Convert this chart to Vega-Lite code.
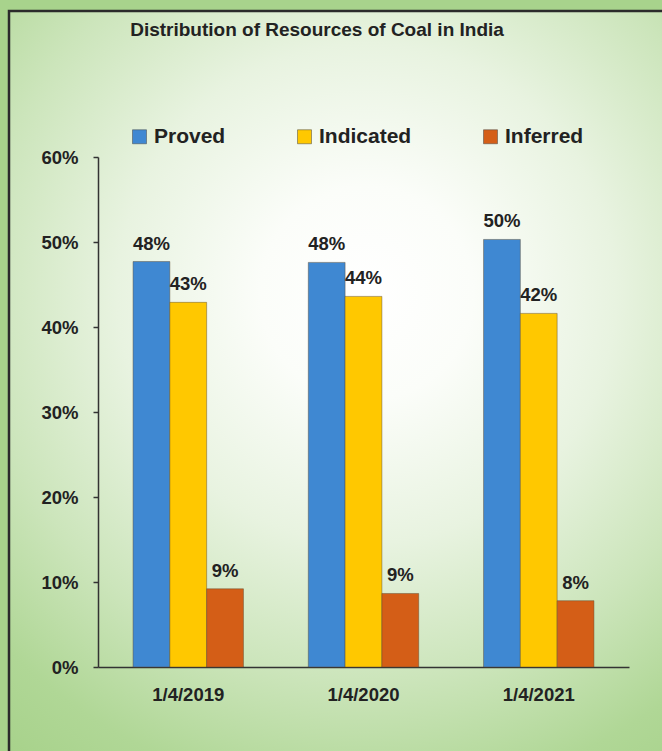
{
  "$schema": "https://vega.github.io/schema/vega-lite/v6.json",
  "width": 656,
  "height": 743,
  "autosize": {"type": "none"},
  "padding": {"left": 9, "top": 11, "right": -3, "bottom": -3},
  "background": "#a8d38c",
  "title": {
    "text": "Distribution of Resources of Coal in India",
    "anchor": "middle",
    "frame": "group",
    "offset": -20,
    "dy": 18,
    "dx": -20,
    "baseline": "middle",
    "font": "Liberation Sans, Arial, sans-serif",
    "fontSize": 19,
    "fontWeight": "bold",
    "color": "#222222"
  },
  "config": {
    "view": {
      "stroke": "#2b2b2b",
      "strokeWidth": 2.5,
      "fill": {
        "gradient": "radial",
        "x1": 0.54, "y1": 0.38, "r1": 0,
        "x2": 0.54, "y2": 0.38, "r2": 0.8,
        "stops": [
          {"offset": 0, "color": "#ffffff"},
          {"offset": 0.18, "color": "#fbfdf9"},
          {"offset": 0.42, "color": "#e8f3e0"},
          {"offset": 0.65, "color": "#cce5bb"},
          {"offset": 0.85, "color": "#b0d796"},
          {"offset": 1, "color": "#a6d189"}
        ]
      }
    },
    "axis": {
      "labelFont": "Liberation Sans, Arial, sans-serif",
      "labelFontWeight": "bold",
      "labelColor": "#222222",
      "domainColor": "#333333",
      "tickColor": "#333333",
      "grid": false,
      "title": null
    },
    "legend": {
      "labelFont": "Liberation Sans, Arial, sans-serif"
    }
  },
  "data": {
    "values": [
      {"date": "1/4/2019", "category": "Proved", "share": 0.477},
      {"date": "1/4/2019", "category": "Indicated", "share": 0.429},
      {"date": "1/4/2019", "category": "Inferred", "share": 0.092},
      {"date": "1/4/2020", "category": "Proved", "share": 0.476},
      {"date": "1/4/2020", "category": "Indicated", "share": 0.436},
      {"date": "1/4/2020", "category": "Inferred", "share": 0.0865},
      {"date": "1/4/2021", "category": "Proved", "share": 0.503},
      {"date": "1/4/2021", "category": "Indicated", "share": 0.416},
      {"date": "1/4/2021", "category": "Inferred", "share": 0.078}
    ]
  },
  "encoding": {
    "x": {
      "field": "date",
      "type": "nominal",
      "sort": ["1/4/2019", "1/4/2020", "1/4/2021"],
      "scale": {"range": [89, 620], "paddingInner": 0.37, "paddingOuter": 0.2},
      "axis": {
        "orient": "bottom",
        "offset": -87,
        "labelAngle": 0,
        "ticks": false,
        "labelPadding": 18,
        "labelFontSize": 18.5,
        "domainWidth": 1.5
      }
    },
    "xOffset": {
      "field": "category",
      "type": "nominal",
      "sort": ["Proved", "Indicated", "Inferred"],
      "scale": {"paddingInner": 0, "paddingOuter": 0}
    },
    "y": {
      "field": "share",
      "type": "quantitative",
      "scale": {"domain": [0, 0.6], "range": [656, 146], "nice": false, "zero": true},
      "axis": {
        "orient": "left",
        "offset": -89,
        "values": [0, 0.1, 0.2, 0.3, 0.4, 0.5, 0.6],
        "format": ".0%",
        "tickSize": 5,
        "tickWidth": 1.5,
        "domainWidth": 1.5,
        "labelPadding": 15,
        "labelFontSize": 18.5
      }
    }
  },
  "layer": [
    {
      "mark": {"type": "bar", "stroke": "#5a4a30", "strokeOpacity": 0.45, "strokeWidth": 1},
      "encoding": {
        "color": {
          "field": "category",
          "type": "nominal",
          "sort": ["Proved", "Indicated", "Inferred"],
          "scale": {
            "domain": ["Proved", "Indicated", "Inferred"],
            "range": ["#3f88d2", "#ffc800", "#d45e17"]
          },
          "legend": {
            "orient": "none",
            "legendX": 120,
            "legendY": 115,
            "direction": "horizontal",
            "title": null,
            "symbolType": "square",
            "symbolSize": 196,
            "symbolStrokeWidth": 0.5,
            "symbolStrokeColor": "#444444",
            "symbolOpacity": 1,
            "labelFontSize": 21,
            "labelFontWeight": "bold",
            "labelColor": "#222222",
            "labelOffset": 4,
            "columnPadding": 68,
            "padding": 0,
            "labelLimit": 300
          }
        }
      }
    },
    {
      "mark": {
        "type": "text",
        "baseline": "alphabetic",
        "dy": -12,
        "font": "Liberation Sans, Arial, sans-serif",
        "fontSize": 18.5,
        "fontWeight": "bold",
        "color": "#222222"
      },
      "encoding": {
        "text": {"field": "share", "type": "quantitative", "format": ".0%"}
      }
    }
  ]
}
